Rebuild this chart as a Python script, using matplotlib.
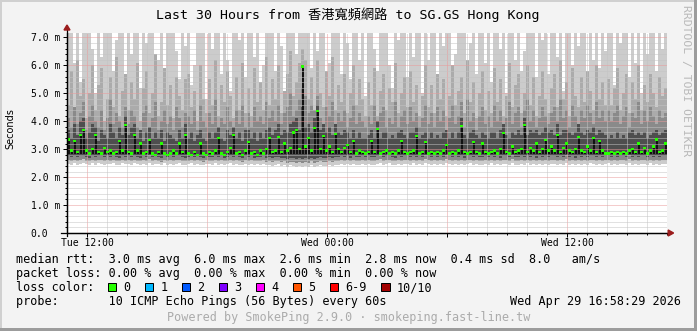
import numpy as np
import matplotlib
matplotlib.use("Agg")
import matplotlib.pyplot as plt
from matplotlib.patches import Rectangle, Polygon
from matplotlib.lines import Line2D
from matplotlib.transforms import blended_transform_factory
from matplotlib.ticker import FixedLocator, MultipleLocator

# ---------------- data (values in ms, axis shows "m" = milli-seconds) ----------------
STEP_HOURS = 0.15          # one column = 9 minutes, 200 columns = 30 h from Tue 11:00
SPIKE_FLOOR = 2.84         # lower end of the dark median spikes

median_rtt = [
    3.35, 2.95, 3.30, 2.90, 3.50, 3.69, 2.95, 2.85, 3.00, 3.50, 2.90, 2.85, 3.05, 2.90, 2.95, 2.85, 2.90, 3.30, 2.95, 3.88,
    2.90, 2.85, 3.50, 2.95, 3.20, 2.85, 2.90, 3.33, 2.85, 2.80, 2.90, 3.20, 2.85, 2.80, 2.85, 2.95, 2.85, 3.20, 2.90, 3.50,
    2.85, 2.80, 2.90, 2.80, 3.20, 2.85, 2.80, 2.90, 2.85, 2.95, 3.40, 2.85, 2.80, 2.90, 3.05, 3.50, 2.85, 2.90, 2.80, 2.95,
    3.25, 2.85, 2.90, 2.80, 2.95, 2.85, 3.00, 3.40, 2.90, 2.95, 3.45, 2.90, 3.20, 2.95, 3.05, 3.60, 3.69, 3.00, 5.96, 3.10,
    3.40, 2.95, 3.76, 4.38, 3.00, 3.47, 2.95, 3.10, 2.90, 3.55, 3.00, 2.90, 3.05, 3.15, 2.90, 3.30, 2.85, 2.95, 2.90, 2.85,
    2.90, 3.30, 2.90, 3.72, 2.85, 2.90, 2.95, 2.85, 2.90, 2.85, 2.95, 3.30, 2.90, 2.85, 2.90, 2.95, 3.48, 2.85, 2.90, 3.27,
    2.85, 2.90, 2.85, 2.90, 2.85, 2.95, 3.15, 2.85, 2.90, 2.85, 2.95, 3.83, 2.90, 2.85, 2.90, 3.27, 2.90, 2.85, 3.20, 2.90,
    2.85, 2.90, 2.95, 2.85, 3.00, 3.58, 2.90, 2.85, 3.10, 2.90, 2.95, 3.00, 3.87, 2.90, 3.05, 2.95, 3.20, 2.90, 3.00, 3.33,
    2.95, 3.10, 2.95, 3.50, 2.90, 3.05, 3.20, 2.95, 2.90, 3.00, 3.45, 2.95, 2.90, 3.10, 2.95, 3.40, 2.90, 3.30, 2.95, 2.85,
    2.85, 2.90, 2.85, 2.90, 2.85, 2.90, 2.85, 2.95, 3.00, 2.90, 3.20, 2.90, 3.05, 2.85, 2.95, 3.10, 3.35, 2.90, 2.95, 3.20,
]

smoke_top = [
    7.2, 7.2, 6.1, 7.2, 5.4, 7.2, 7.2, 7.2, 6.6, 5.0, 7.2, 6.3, 7.2, 7.2, 7.2, 5.8, 6.9, 7.2, 7.2, 5.6,
    7.2, 6.4, 7.2, 7.2, 5.2, 7.2, 6.8, 7.2, 7.2, 5.9, 6.2, 7.2, 4.9, 7.2, 7.2, 7.2, 6.5, 5.5, 7.2, 6.7,
    7.2, 5.3, 6.0, 7.2, 7.2, 7.2, 4.8, 7.2, 6.6, 7.2, 7.2, 5.7, 7.2, 6.2, 5.1, 7.2, 7.2, 6.9, 7.2, 5.6,
    7.2, 7.2, 6.3, 7.2, 5.4, 6.0, 7.2, 7.2, 7.2, 5.8, 7.2, 6.7, 5.0, 7.2, 7.2, 7.2, 6.4, 7.2, 7.2, 7.2,
    7.2, 5.9, 7.2, 6.5, 7.2, 7.2, 5.3, 6.1, 7.2, 7.2, 7.2, 5.7, 7.2, 6.8, 5.5, 7.2, 7.2, 6.2, 7.2, 4.9,
    7.2, 7.2, 6.6, 5.8, 7.2, 7.2, 7.2, 6.0, 5.2, 7.2, 6.9, 7.2, 7.2, 5.6, 7.2, 6.3, 7.2, 7.2, 5.0, 7.2,
    6.2, 7.2, 7.2, 5.5, 7.2, 6.7, 7.2, 7.2, 5.9, 6.4, 7.2, 7.2, 7.2, 5.3, 6.8, 7.2, 5.7, 7.2, 7.2, 6.1,
    7.2, 5.4, 7.2, 7.2, 6.6, 7.2, 5.0, 7.2, 7.2, 6.2, 7.2, 5.8, 6.5, 7.2, 7.2, 7.2, 5.6, 7.2, 6.9, 7.2,
    5.7, 7.2, 7.2, 6.3, 7.2, 5.1, 7.2, 7.2, 6.0, 7.2, 6.7, 7.2, 7.2, 5.4, 7.2, 6.2, 7.2, 5.9, 7.2, 6.5,
    7.2, 7.2, 5.3, 7.2, 6.8, 7.2, 7.2, 5.6, 7.2, 6.1, 7.2, 5.0, 7.2, 6.4, 7.2, 7.2, 5.8, 7.2, 6.6, 7.2,
]

smoke_upper = [
    4.6, 5.8, 4.3, 6.2, 4.9, 5.5, 4.1, 5.0, 6.0, 4.4, 5.3, 5.9, 4.0, 4.8, 5.6, 4.5, 6.3, 4.2, 5.1, 5.7,
    4.4, 5.4, 4.8, 6.1, 4.0, 5.2, 5.8, 4.3, 5.0, 6.4, 4.2, 4.7, 5.9, 4.6, 5.3, 4.1, 5.6, 4.9, 4.4, 5.5,
    5.7, 4.5, 5.1, 4.0, 6.0, 4.8, 4.3, 5.5, 4.6, 6.2, 4.2, 5.3, 4.7, 5.8, 4.9, 4.1, 5.6, 4.4, 6.1, 4.3,
    5.2, 4.2, 5.9, 4.7, 5.4, 4.4, 6.3, 4.6, 5.5, 4.8, 6.0, 4.3, 5.1, 5.7, 6.5, 4.9, 5.4, 6.1, 6.6, 6.2,
    4.8, 5.6, 4.4, 6.2, 5.0, 4.5, 5.8, 4.9, 6.3, 4.4, 5.3, 4.7, 5.7, 4.3, 5.0, 6.0, 4.6, 5.5, 4.8, 4.2,
    5.4, 4.6, 5.9, 4.2, 5.1, 5.7, 4.4, 5.2, 4.7, 6.1, 4.3, 5.0, 5.6, 4.5, 5.8, 4.7, 5.3, 4.2, 4.9, 6.0,
    4.5, 5.3, 4.3, 5.7, 4.8, 5.5, 4.2, 4.9, 6.0, 4.6, 5.1, 5.6, 4.3, 6.2, 4.7, 5.4, 4.1, 5.0, 5.8, 4.4,
    5.1, 4.3, 5.9, 4.7, 5.5, 4.2, 4.9, 6.1, 4.5, 5.3, 5.7, 4.3, 5.0, 6.0, 4.6, 5.6, 4.2, 4.9, 5.8, 4.8,
    4.3, 5.2, 5.7, 4.5, 6.2, 4.8, 5.4, 4.2, 5.9, 4.9, 4.5, 5.6, 4.7, 5.8, 5.1, 4.4, 6.0, 4.8, 5.4, 4.6,
    5.5, 4.6, 5.2, 5.9, 4.4, 5.0, 5.7, 4.3, 5.4, 4.8, 6.0, 4.4, 5.3, 4.7, 5.7, 5.0, 4.5, 5.6, 4.9, 5.2,
]

smoke_mid = [
    4.1, 3.8, 4.5, 3.9, 4.3, 4.7, 3.7, 4.2, 4.6, 4.0, 3.8, 4.4, 3.7, 4.1, 4.8, 3.9, 4.3, 4.0, 3.8, 4.5,
    3.9, 4.4, 4.2, 3.8, 3.7, 4.3, 4.6, 3.8, 4.1, 4.7, 3.7, 4.0, 4.4, 3.9, 4.2, 3.7, 4.5, 4.1, 3.8, 4.3,
    4.2, 3.9, 4.4, 3.7, 4.6, 4.0, 3.8, 4.3, 3.9, 4.8, 3.7, 4.1, 3.9, 4.5, 4.0, 3.8, 4.4, 3.9, 4.6, 3.8,
    4.3, 3.8, 4.5, 4.0, 4.2, 3.9, 4.7, 4.1, 4.4, 4.0, 4.6, 3.9, 4.3, 4.5, 5.0, 4.2, 4.4, 4.8, 5.2, 4.9,
    4.3, 4.6, 4.4, 4.9, 4.1, 3.9, 4.5, 4.2, 4.7, 3.9, 4.3, 4.0, 4.4, 3.8, 4.1, 4.6, 3.9, 4.3, 4.0, 3.8,
    4.2, 3.9, 4.6, 3.8, 4.3, 4.5, 3.8, 4.1, 3.9, 4.7, 3.8, 4.2, 4.4, 3.9, 4.5, 4.0, 4.3, 3.8, 4.1, 4.6,
    3.9, 4.3, 3.8, 4.5, 4.0, 4.4, 3.7, 4.1, 4.6, 3.9, 4.2, 4.7, 3.8, 4.8, 4.0, 4.3, 3.7, 4.2, 4.5, 3.9,
    4.2, 3.8, 4.6, 4.0, 4.4, 3.9, 4.1, 4.7, 3.9, 4.3, 4.5, 3.8, 4.4, 4.8, 4.0, 4.4, 3.8, 4.1, 4.5, 4.2,
    3.9, 4.3, 4.5, 4.0, 4.8, 4.1, 4.4, 3.8, 4.6, 4.2, 3.9, 4.4, 4.1, 4.6, 4.3, 3.9, 4.7, 4.1, 4.4, 4.0,
    4.4, 4.0, 4.3, 4.6, 3.9, 4.2, 4.5, 3.8, 4.3, 4.1, 4.7, 3.9, 4.4, 4.0, 4.5, 4.2, 3.9, 4.4, 4.1, 4.3,
]

smoke_inner = [
    3.7, 3.4, 3.9, 3.5, 4.0, 4.1, 3.4, 3.6, 3.9, 3.8, 3.3, 3.7, 3.5, 3.4, 3.9, 3.6, 3.4, 3.8, 3.5, 4.2,
    3.5, 3.8, 3.9, 3.4, 3.7, 3.3, 3.6, 3.8, 3.4, 3.6, 3.4, 3.7, 3.3, 3.6, 3.5, 3.4, 3.3, 3.7, 3.4, 3.9,
    3.4, 3.6, 3.3, 3.5, 3.7, 3.4, 3.3, 3.6, 3.4, 3.6, 3.8, 3.4, 3.3, 3.7, 3.5, 3.8, 3.4, 3.6, 3.3, 3.7,
    3.7, 3.4, 3.6, 3.3, 3.6, 3.4, 3.7, 3.8, 3.5, 3.7, 3.9, 3.5, 3.7, 3.6, 3.9, 4.0, 4.1, 3.7, 4.5, 3.8,
    3.9, 3.6, 4.1, 4.6, 3.7, 3.9, 3.6, 3.8, 3.5, 3.9, 3.6, 3.5, 3.7, 3.6, 3.4, 3.7, 3.4, 3.6, 3.4, 3.4,
    3.5, 3.7, 3.4, 4.0, 3.4, 3.6, 3.6, 3.4, 3.5, 3.4, 3.6, 3.7, 3.5, 3.4, 3.6, 3.6, 3.8, 3.4, 3.5, 3.6,
    3.4, 3.6, 3.4, 3.5, 3.4, 3.6, 3.7, 3.4, 3.6, 3.4, 3.6, 4.1, 3.5, 3.4, 3.6, 3.7, 3.5, 3.4, 3.6, 3.5,
    3.4, 3.6, 3.6, 3.4, 3.7, 3.9, 3.5, 3.4, 3.6, 3.5, 3.7, 3.5, 4.1, 3.5, 3.7, 3.6, 3.7, 3.5, 3.6, 3.8,
    3.6, 3.7, 3.5, 3.9, 3.5, 3.7, 3.7, 3.6, 3.5, 3.6, 3.9, 3.6, 3.5, 3.7, 3.6, 3.8, 3.5, 3.7, 3.6, 3.5,
    3.4, 3.5, 3.4, 3.6, 3.4, 3.5, 3.4, 3.6, 3.7, 3.5, 3.6, 3.5, 3.6, 3.4, 3.5, 3.6, 3.7, 3.5, 3.6, 3.7,
]

smoke_low = [
    2.48, 2.45, 2.50, 2.44, 2.47, 2.52, 2.46, 2.43, 2.49, 2.45, 2.51, 2.47, 2.44, 2.48, 2.46, 2.50, 2.45, 2.43, 2.49, 2.46,
    2.47, 2.44, 2.50, 2.46, 2.43, 2.48, 2.45, 2.51, 2.44, 2.47, 2.46, 2.42, 2.49, 2.45, 2.48, 2.44, 2.47, 2.50, 2.45, 2.43,
    2.46, 2.49, 2.44, 2.47, 2.45, 2.42, 2.48, 2.46, 2.44, 2.50, 2.45, 2.47, 2.43, 2.46, 2.49, 2.44, 2.47, 2.45, 2.42, 2.48,
    2.45, 2.47, 2.43, 2.46, 2.44, 2.48, 2.42, 2.45, 2.40, 2.44, 2.46, 2.41, 2.43, 2.38, 2.42, 2.40, 2.37, 2.41, 2.36, 2.39,
    2.38, 2.42, 2.37, 2.40, 2.43, 2.39, 2.41, 2.44, 2.40, 2.45, 2.43, 2.47, 2.44, 2.46, 2.42, 2.48, 2.45, 2.43, 2.47, 2.44,
    2.48, 2.45, 2.43, 2.47, 2.50, 2.44, 2.46, 2.49, 2.45, 2.42, 2.47, 2.44, 2.48, 2.46, 2.43, 2.49, 2.45, 2.47, 2.44, 2.50,
    2.46, 2.43, 2.48, 2.45, 2.47, 2.44, 2.50, 2.46, 2.43, 2.48, 2.45, 2.47, 2.42, 2.46, 2.49, 2.44, 2.47, 2.45, 2.43, 2.48,
    2.45, 2.49, 2.44, 2.47, 2.42, 2.46, 2.48, 2.44, 2.50, 2.45, 2.43, 2.47, 2.45, 2.49, 2.44, 2.46, 2.42, 2.48, 2.45, 2.47,
    2.44, 2.48, 2.46, 2.43, 2.47, 2.45, 2.50, 2.44, 2.46, 2.42, 2.48, 2.45, 2.47, 2.43, 2.49, 2.46, 2.44, 2.48, 2.45, 2.47,
    2.49, 2.45, 2.47, 2.44, 2.48, 2.46, 2.43, 2.50, 2.45, 2.47, 2.44, 2.48, 2.46, 2.43, 2.49, 2.45, 2.47, 2.44, 2.48, 2.46,
]

smoke_low2 = [
    2.60, 2.57, 2.62, 2.58, 2.61, 2.64, 2.59, 2.56, 2.62, 2.58, 2.63, 2.60, 2.57, 2.61, 2.59, 2.63, 2.58, 2.56, 2.62, 2.59,
    2.61, 2.57, 2.63, 2.59, 2.56, 2.61, 2.58, 2.64, 2.57, 2.60, 2.59, 2.55, 2.62, 2.58, 2.61, 2.57, 2.60, 2.63, 2.58, 2.56,
    2.59, 2.62, 2.57, 2.60, 2.58, 2.55, 2.61, 2.59, 2.57, 2.63, 2.58, 2.60, 2.56, 2.59, 2.62, 2.57, 2.60, 2.58, 2.55, 2.61,
    2.58, 2.60, 2.56, 2.59, 2.57, 2.61, 2.55, 2.58, 2.54, 2.57, 2.59, 2.54, 2.56, 2.52, 2.55, 2.53, 2.51, 2.55, 2.50, 2.53,
    2.52, 2.56, 2.51, 2.54, 2.57, 2.53, 2.55, 2.58, 2.54, 2.59, 2.57, 2.61, 2.58, 2.60, 2.56, 2.62, 2.59, 2.57, 2.61, 2.58,
    2.62, 2.59, 2.57, 2.61, 2.64, 2.58, 2.60, 2.63, 2.59, 2.56, 2.61, 2.58, 2.62, 2.60, 2.57, 2.63, 2.59, 2.61, 2.58, 2.64,
    2.60, 2.57, 2.62, 2.59, 2.61, 2.58, 2.64, 2.60, 2.57, 2.62, 2.59, 2.61, 2.56, 2.60, 2.63, 2.58, 2.61, 2.59, 2.57, 2.62,
    2.59, 2.63, 2.58, 2.61, 2.56, 2.60, 2.62, 2.58, 2.64, 2.59, 2.57, 2.61, 2.59, 2.63, 2.58, 2.60, 2.56, 2.62, 2.59, 2.61,
    2.58, 2.62, 2.60, 2.57, 2.61, 2.59, 2.64, 2.58, 2.60, 2.56, 2.62, 2.59, 2.61, 2.57, 2.63, 2.60, 2.58, 2.62, 2.59, 2.61,
    2.63, 2.59, 2.61, 2.58, 2.62, 2.60, 2.57, 2.64, 2.59, 2.61, 2.58, 2.62, 2.60, 2.57, 2.63, 2.59, 2.61, 2.58, 2.62, 2.60,
]

smoke_inner_low = [
    2.74, 2.71, 2.76, 2.72, 2.75, 2.77, 2.73, 2.70, 2.76, 2.72, 2.77, 2.74, 2.71, 2.75, 2.73, 2.77, 2.72, 2.70, 2.76, 2.73,
    2.75, 2.71, 2.77, 2.73, 2.70, 2.75, 2.72, 2.78, 2.71, 2.74, 2.73, 2.69, 2.76, 2.72, 2.75, 2.71, 2.74, 2.77, 2.72, 2.70,
    2.73, 2.76, 2.71, 2.74, 2.72, 2.69, 2.75, 2.73, 2.71, 2.77, 2.72, 2.74, 2.70, 2.73, 2.76, 2.71, 2.74, 2.72, 2.69, 2.75,
    2.72, 2.74, 2.70, 2.73, 2.71, 2.75, 2.69, 2.72, 2.68, 2.71, 2.73, 2.68, 2.70, 2.66, 2.69, 2.67, 2.65, 2.69, 2.64, 2.67,
    2.66, 2.70, 2.65, 2.68, 2.71, 2.67, 2.69, 2.72, 2.68, 2.73, 2.71, 2.75, 2.72, 2.74, 2.70, 2.76, 2.73, 2.71, 2.75, 2.72,
    2.76, 2.73, 2.71, 2.75, 2.78, 2.72, 2.74, 2.77, 2.73, 2.70, 2.75, 2.72, 2.76, 2.74, 2.71, 2.77, 2.73, 2.75, 2.72, 2.78,
    2.74, 2.71, 2.76, 2.73, 2.75, 2.72, 2.78, 2.74, 2.71, 2.76, 2.73, 2.75, 2.70, 2.74, 2.77, 2.72, 2.75, 2.73, 2.71, 2.76,
    2.73, 2.77, 2.72, 2.75, 2.70, 2.74, 2.76, 2.72, 2.78, 2.73, 2.71, 2.75, 2.73, 2.77, 2.72, 2.74, 2.70, 2.76, 2.73, 2.75,
    2.72, 2.76, 2.74, 2.71, 2.75, 2.73, 2.78, 2.72, 2.74, 2.70, 2.76, 2.73, 2.75, 2.71, 2.77, 2.74, 2.72, 2.76, 2.73, 2.75,
    2.77, 2.73, 2.75, 2.72, 2.76, 2.74, 2.71, 2.78, 2.73, 2.75, 2.72, 2.76, 2.74, 2.71, 2.77, 2.73, 2.75, 2.72, 2.76, 2.74,
]

x_label_hours = [1, 13, 25]
x_labels = ["Tue 12:00", "Wed 00:00", "Wed 12:00"]
y_tick_values = [0, 1, 2, 3, 4, 5, 6, 7]
y_tick_labels = ["0.0", "1.0 m", "2.0 m", "3.0 m", "4.0 m", "5.0 m", "6.0 m", "7.0 m"]

title = "Last 30 Hours from 香港寬頻網路 to SG.GS Hong Kong"
legend_lines = [
    "median rtt:  3.0 ms avg  6.0 ms max  2.6 ms min  2.8 ms now  0.4 ms sd  8.0   am/s",
    "packet loss: 0.00 % avg  0.00 % max  0.00 % min  0.00 % now",
    "loss color:",
    "probe:       10 ICMP Echo Pings (56 Bytes) every 60s",
]
loss_labels = ["0", "1", "2", "3", "4", "5", "6-9", "10/10"]
loss_colors = ["#26ff00", "#00b8ff", "#0059ff", "#7e00ff", "#ff00ff", "#ff5500", "#ff0000", "#a10000"]
timestamp = "Wed Apr 29 16:58:29 2026"
footer = "Powered by SmokePing 2.9.0 · smokeping.fast-line.tw"
side_text = "RRDTOOL / TOBI OETIKER"

# ---------------- figure ----------------
W, H = 697, 331
DPI = 100
fig = plt.figure(figsize=(W / DPI, H / DPI), dpi=DPI, facecolor="#f3f3f3")

def fx(p):
    return p / W

def fy(p):
    return 1 - p / H

MONO = "DejaVu Sans Mono"
TXT = "#000000"

ax = fig.add_axes([fx(67), fy(233), 600 / W, 200 / H], facecolor="white")
ax.set_xlim(0, 30)
ax.set_ylim(0, 7.16)

med = np.array(median_rtt)
top = np.array(smoke_top)
upp = np.array(smoke_upper)
mid = np.array(smoke_mid)
inn = np.array(smoke_inner)
lo = np.array(smoke_low)
lo2 = np.array(smoke_low2)
ilo = np.array(smoke_inner_low)
t = np.arange(len(med)) * STEP_HOURS

common = dict(width=STEP_HOURS, align="edge", linewidth=0, antialiased=False)
ax.bar(t, top - lo, bottom=lo, color="#cccccc", zorder=1.0, **common)
ax.bar(t, upp - lo2, bottom=lo2, color="#ababab", zorder=1.1, **common)
ax.bar(t, mid - lo2, bottom=lo2, color="#8a8a8a", zorder=1.2, **common)
ax.bar(t, inn - ilo, bottom=ilo, color="#4e4e4e", zorder=1.3, **common)
# dark median spikes
spike = np.clip(med - SPIKE_FLOOR, 0, None)
ax.bar(t + STEP_HOURS * 0.17, spike, bottom=SPIKE_FLOOR, width=STEP_HOURS * 0.67,
       align="edge", color="#121212", linewidth=0, antialiased=False, zorder=1.4)
# median marker (loss colour 0)
ax.bar(t + STEP_HOURS * 0.1, np.full(len(med), 0.085), bottom=med - 0.045,
       width=STEP_HOURS * 0.8, align="edge", color=loss_colors[0], linewidth=0,
       antialiased=False, zorder=4)

# grid
ax.xaxis.set_major_locator(FixedLocator(np.arange(1, 30, 6)))
ax.xaxis.set_minor_locator(FixedLocator(np.arange(0, 31, 1)))
ax.yaxis.set_major_locator(FixedLocator(y_tick_values))
ax.yaxis.set_minor_locator(MultipleLocator(0.2))
dot = (0, (1, 1))
ax.grid(which="minor", color="#c4c4c4", linewidth=0.72, linestyle=dot)
ax.grid(which="major", color="#eb9a9a", linewidth=0.72, linestyle=dot)
ax.set_axisbelow(False)
for a in (ax.xaxis, ax.yaxis):
    for gl in a.get_gridlines():
        gl.set_zorder(3)
ax.tick_params(which="both", direction="out", color="black", width=0.72,
               labelleft=False, labelbottom=False)
ax.tick_params(which="major", length=3.2)
ax.tick_params(which="minor", length=1.6)

for s in ("top", "right"):
    ax.spines[s].set_visible(False)
for s in ("left", "bottom"):
    ax.spines[s].set_linewidth(0.9)
    ax.spines[s].set_color("black")
    ax.spines[s].set_zorder(5)

# axis extensions and arrows
arrow_c = "#9b1c1c"
ax.add_line(Line2D([-6 / 600, 1.003], [0, 0], transform=ax.transAxes, color="black",
                   lw=0.9, clip_on=False, zorder=5))
ax.add_line(Line2D([0, 0], [-3 / 200, 1.02], transform=ax.transAxes, color="black",
                   lw=0.9, clip_on=False, zorder=5))
ax.add_patch(Polygon([[1.002, 3 / 200], [1.002, -3 / 200], [1.011, 0]], closed=True,
                     transform=ax.transAxes, color=arrow_c, clip_on=False, zorder=6))
ax.add_patch(Polygon([[-3 / 600, 1.015], [3 / 600, 1.015], [0, 1.04]], closed=True,
                     transform=ax.transAxes, color=arrow_c, clip_on=False, zorder=6))

# tick labels
ty = blended_transform_factory(ax.transAxes, ax.transData)
for v, lab in zip(y_tick_values, y_tick_labels):
    ax.text(-36.3 / 600, v, lab, transform=ty, ha="left", va="center_baseline",
            fontsize=7, family=MONO, color=TXT)
tx = blended_transform_factory(ax.transData, ax.transAxes)
for h, lab in zip(x_label_hours, x_labels):
    ax.text(h, -13 / 200, lab, transform=tx, ha="center", va="baseline",
            fontsize=7, family=MONO, color=TXT)

# titles / side texts
fig.text(fx(347.5), fy(19), title, ha="center", va="baseline", fontsize=9.5,
         family=[MONO, "Noto Sans CJK TC"], color=TXT)
fig.text(fx(10.8), fy(128.5), "Seconds", rotation=90, ha="center", va="center",
         fontsize=7, family="DejaVu Sans", color=TXT)
fig.text(fx(686), fy(5), side_text, rotation=270, ha="center", va="top",
         fontsize=8.2, family=MONO, color="#b8b8b8")

# legend
baselines = [263.4, 277.3, 291.2, 304.8]
for line, b in zip(legend_lines, baselines):
    fig.text(fx(16), fy(b), line, ha="left", va="baseline", fontsize=8.5,
             family=MONO, color=TXT)
fig.text(fx(680.5), fy(baselines[3]), timestamp, ha="right", va="baseline",
         fontsize=8.5, family=MONO, color=TXT)

bx = 108.0
box = 8.4
for lab, col in zip(loss_labels, loss_colors):
    fig.add_artist(Rectangle((fx(bx), fy(282.7 + box)), box / W, box / H,
                             transform=fig.transFigure, facecolor=col,
                             edgecolor="black", linewidth=0.72))
    fig.text(fx(bx + 15.3), fy(baselines[2]), lab, ha="left", va="baseline",
             fontsize=8.5, family=MONO, color=TXT)
    bx += 37.0 + 7.1 * (len(lab) - 1)

fig.text(fx(348.3), fy(321), footer, ha="center", va="baseline", fontsize=8.5,
         family=MONO, color="#ababab")

# frame
fig.add_artist(Rectangle((0, fy(2)), 1, 2 / H, transform=fig.transFigure,
                         facecolor="#d0d0d0", linewidth=0))
fig.add_artist(Rectangle((0, 0), 2 / W, 1, transform=fig.transFigure,
                         facecolor="#d0d0d0", linewidth=0))
fig.add_artist(Rectangle((fx(694), 0), 3 / W, 1, transform=fig.transFigure,
                         facecolor="#9c9c9c", linewidth=0))
fig.add_artist(Rectangle((0, 0), 1, 3 / H, transform=fig.transFigure,
                         facecolor="#9c9c9c", linewidth=0))

fig.savefig("out.png", dpi=DPI, facecolor=fig.get_facecolor())
